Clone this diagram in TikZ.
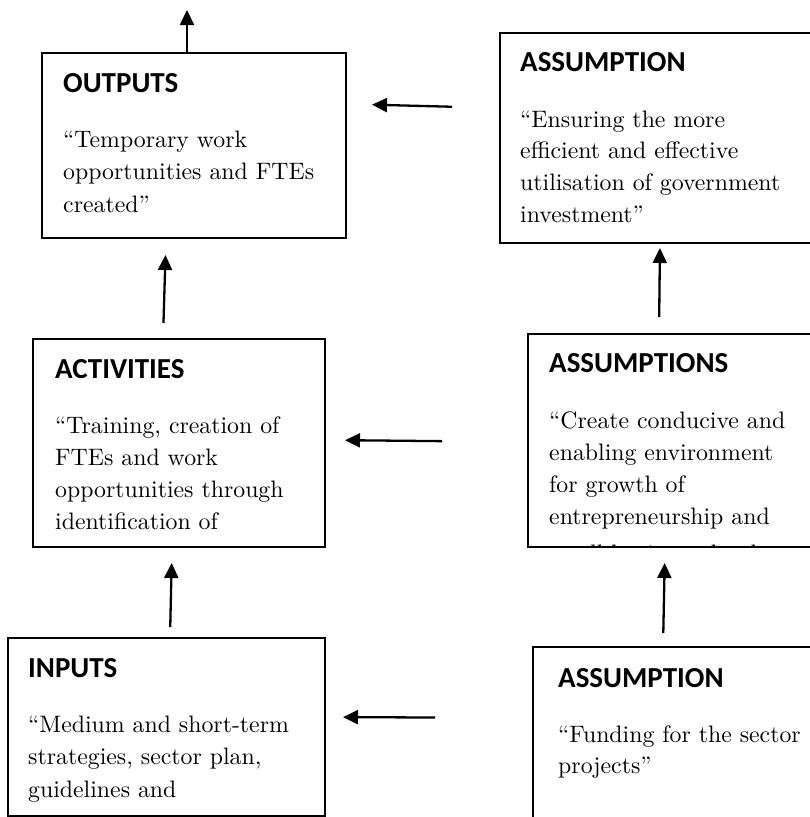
\documentclass[tikz,border=0pt]{standalone}
\usepackage{fontspec}
\newfontfamily\headfont{Carlito}
\newfontfamily\bodyfont{lmroman10-regular}[Extension=.otf]
\usetikzlibrary{arrows.meta}
\tikzset{
  x=1pt, y=-1pt,
  box/.style={draw, line width=2.3pt, rectangle, anchor=north west,
    inner sep=0pt, outer sep=0pt},
  head/.style={anchor=base west, inner sep=0pt,
    font=\headfont\bfseries\fontsize{29}{34}\selectfont},
  bodyline/.style={anchor=base west, inner sep=0pt,
    font=\bodyfont\fontsize{23.8}{32}\selectfont},
  arr/.style={line width=2.3pt, -{Triangle[length=15pt,width=14pt]}},
}
\begin{document}
\begin{tikzpicture}
\clip (0,0) rectangle (810,817);

% boxes (the right-hand column runs off the page edge)
\node[box, minimum width=304pt, minimum height=185pt] (out)  at (42,53)  {};
\node[box, minimum width=330pt, minimum height=210pt] (asm1) at (500,33) {};
\node[box, minimum width=292pt, minimum height=208pt] (act)  at (33,339) {};
\node[box, minimum width=302pt, minimum height=213pt] (asm2) at (528,334) {};
\node[box, minimum width=317pt, minimum height=178pt] (inp)  at (8,638)  {};
\node[box, minimum width=297pt, minimum height=200pt] (asm3) at (533,647) {};

% headings
\node[head] (out-h)  at (63,92)   {OUTPUTS};
\node[head] (asm1-h) at (520,71)  {ASSUMPTION};
\node[head] (act-h)  at (55,378)  {ACTIVITIES};
\node[head] (asm2-h) at (549,372) {ASSUMPTIONS};
\node[head] (inp-h)  at (28,677)  {INPUTS};
\node[head] (asm3-h) at (558,687) {ASSUMPTION};

% body texts
\foreach \txt [count=\i] in {{“Temporary work},{opportunities and FTEs},{created”}}
  \node[bodyline] (out-l\i) at (63,{147+32.5*(\i-1)}) {\txt};
\foreach \txt [count=\i] in {{“Ensuring the more},{efficient and effective},{utilisation of government},{investment”}}
  \node[bodyline] (asm1-l\i) at (520,{127+31.7*(\i-1)}) {\txt};
\begin{scope}
  \clip ([shift={(1.2pt,-1.2pt)}]act.north west) rectangle ([shift={(-1.2pt,1.2pt)}]act.south east);
  \foreach \txt [count=\i] in {{“Training, creation of},{FTEs and work},{opportunities through},{identification of}}
    \node[bodyline] (act-l\i) at (55,{433+32.3*(\i-1)}) {\txt};
\end{scope}
\begin{scope}
  \clip ([shift={(1.2pt,-1.2pt)}]asm2.north west) rectangle ([shift={(-1.2pt,1.2pt)}]asm2.south east);
  \foreach \txt [count=\i] in {{“Create conducive and},{enabling environment},{for growth of},{entrepreneurship and}}
    \node[bodyline] (asm2-l\i) at (549,{428+32*(\i-1)}) {\txt};
  % overflowing line, hidden by the box edge but for its tops
  \node[bodyline] (asm2-l5) at (549,561) {small business development};
\end{scope}
\foreach \txt [count=\i] in {{“Medium and short-term},{strategies, sector plan,},{guidelines and}}
  \node[bodyline] (inp-l\i) at (28,{732+32.5*(\i-1)}) {\txt};
\foreach \txt [count=\i] in {{“Funding for the sector},{projects”}}
  \node[bodyline] (asm3-l\i) at (558,{742+31.5*(\i-1)}) {\txt};

% flow arrows
\coordinate (top) at (187,10);
\draw[arr] (out.north -| top) -- (top);
\draw[arr, shorten <=16pt, shorten >=17pt] ([xshift=130pt]act.north west) -- ([xshift=124pt]out.south west);
\draw[arr, shorten <=11pt, shorten >=16pt] ([xshift=162pt]inp.north west) -- ([xshift=139pt]act.south west);
\draw[arr, shorten <=17pt, shorten >=5pt]  ([xshift=131pt]asm2.north west) -- ([xshift=160pt]asm1.south west);
\draw[arr, shorten <=14pt, shorten >=16pt] ([xshift=130pt]asm3.north west) -- ([xshift=137pt]asm2.south west);
\draw[arr, shorten <=48pt, shorten >=26pt] ([yshift=-75pt]asm1.north west) -- ([yshift=-51pt]out.north east);
\draw[arr, shorten <=86pt, shorten >=20pt] ([yshift=-108pt]asm2.north west) -- ([yshift=-101pt]act.north east);
\draw[arr, shorten <=98pt, shorten >=18pt] ([yshift=-71pt]asm3.north west) -- ([yshift=-79pt]inp.north east);
\end{tikzpicture}
\end{document}
